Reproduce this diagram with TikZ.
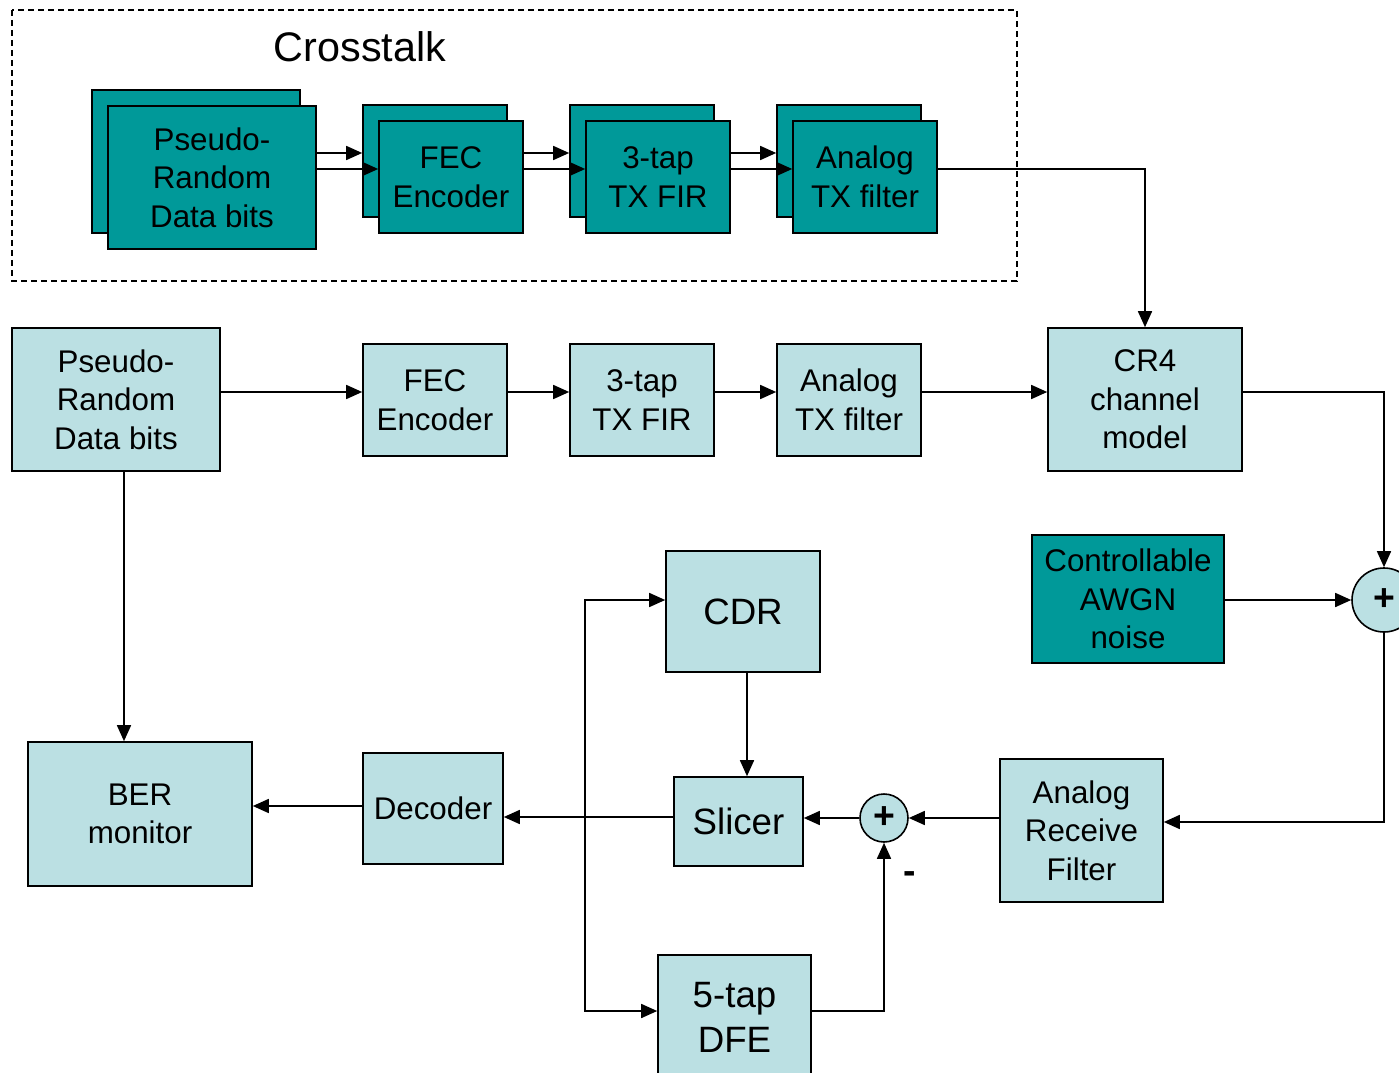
\documentclass[tikz,border=0pt]{standalone}
\usepackage{fontspec}
\setmainfont{Liberation Sans}
\usetikzlibrary{arrows.meta}
\definecolor{lteal}{HTML}{BBE0E3}
\definecolor{dteal}{HTML}{009999}
\begin{document}
\begin{tikzpicture}[x=0.75pt,y=-0.75pt,
  sz/.style 2 args={minimum width=#1*0.75pt, minimum height=#2*0.75pt},
  blk/.style={draw=black, line width=1.2pt, inner sep=0pt, align=center, font=\fontsize{23.5}{29}\selectfont},
  lb/.style={blk, fill=lteal},
  db/.style={blk, fill=dteal},
  big/.style={font=\fontsize{27.5}{34}\selectfont},
  sumc/.style={circle, draw=black, line width=1.2pt, fill=lteal, inner sep=0pt, font=\fontsize{28}{28}\selectfont\bfseries},
  arr/.style={line width=1.2pt, -{Triangle[length=12pt,width=10.5pt]}},
  ln/.style={line width=1.2pt}]
\useasboundingbox (0,0) rectangle (1399,1073);
% crosstalk frame
\draw[line width=1.2pt, dash pattern=on 4.5pt off 3pt] (12,10) rectangle (1017,281);
\node[font=\fontsize{31}{36}\selectfont] (xtitle) at (360,47) {Crosstalk};
% crosstalk back boxes
\node[db, sz={208}{143}] (xPRBSb) at (196,161.5) {};
\node[db, sz={144}{112}] (xFECb) at (435,161) {};
\node[db, sz={144}{112}] (xFIRb) at (642,161) {};
\node[db, sz={144}{112}] (xATXb) at (849,161) {};
% crosstalk front boxes
\node[db, sz={208}{143}] (xPRBS) at (212,177.5) {Pseudo-\\Random\\Data bits};
\node[db, sz={144}{112}] (xFEC) at (451,177) {FEC\\Encoder};
\node[db, sz={144}{112}] (xFIR) at (658,177) {3-tap\\TX FIR};
\node[db, sz={144}{112}] (xATX) at (865,177) {Analog\\TX filter};
% main row
\node[lb, sz={208}{143}] (PRBS) at (116,399.5) {Pseudo-\\Random\\Data bits};
\node[lb, sz={144}{112}] (FEC) at (435,400) {FEC\\Encoder};
\node[lb, sz={144}{112}] (FIR) at (642,400) {3-tap\\TX FIR};
\node[lb, sz={144}{112}] (ATX) at (849,400) {Analog\\TX filter};
\node[lb, sz={194}{143}] (CR4) at (1145,399.5) {CR4\\channel\\model};
\node[db, sz={192}{128}] (AWGN) at (1128,599) {Controllable\\AWGN\\noise};
\node[sumc, minimum size=64*0.75pt] (sum1) at (1384,600) {+};
\node[lb, sz={163}{143}] (ARF) at (1081.5,830.5) {Analog\\Receive\\Filter};
\node[sumc, minimum size=48*0.75pt] (sum2) at (884,818) {+};
\node[lb, big, sz={129}{89}] (Slicer) at (738.5,821.5) {Slicer};
\node[lb, big, sz={154}{121}] (CDR) at (743,611.5) {CDR};
\node[lb, sz={140}{111}] (Decoder) at (433,808.5) {Decoder};
\node[lb, sz={224}{144}] (BER) at (140,814) {BER\\monitor};
\node[lb, big, sz={153}{125}] (DFE) at (734.5,1017.5) {5-tap\\DFE};
\node[font=\fontsize{28}{30}\selectfont\bfseries] (minus) at (910,878) {-};
% helper coordinates
\coordinate (yA) at (0,153);
\coordinate (yB) at (0,169);
\coordinate (yC) at (0,392);
\coordinate (yD) at (0,822);
\coordinate (yE) at (0,806);
\coordinate (yH) at (0,600);
\coordinate (yI) at (0,1011);
\coordinate (xF) at (124,0);
\coordinate (xG) at (747,0);
\coordinate (fb) at (585,817);
% crosstalk connectors
\draw[arr] (xPRBS.east |- yA) -- (xFECb.west |- yA);
\draw[arr] (xPRBS.east |- yB) -- (xFEC.west |- yB);
\draw[arr] (xFEC.east |- yA) -- (xFIRb.west |- yA);
\draw[arr] (xFEC.east |- yB) -- (xFIR.west |- yB);
\draw[arr] (xFIR.east |- yA) -- (xATXb.west |- yA);
\draw[arr] (xFIR.east |- yB) -- (xATX.west |- yB);
\draw[arr] (xATX.east |- yB) -| (CR4.north);
% main connectors
\draw[arr] (PRBS.east |- yC) -- (FEC.west |- yC);
\draw[arr] (FEC.east |- yC) -- (FIR.west |- yC);
\draw[arr] (FIR.east |- yC) -- (ATX.west |- yC);
\draw[arr] (ATX.east |- yC) -- (CR4.west |- yC);
\draw[arr] (CR4.east |- yC) -| (sum1.north);
\draw[arr] (AWGN.east |- sum1) -- (sum1.west);
\draw[arr] (sum1.south) |- (ARF.east |- yD);
\draw[arr] (ARF.west |- sum2) -- (sum2.east);
\draw[arr] (sum2.west) -- (Slicer.east |- sum2);
\draw[arr] (Slicer.west |- fb) -- (Decoder.east |- fb);
\draw[arr] (Decoder.west |- yE) -- (BER.east |- yE);
\draw[arr] (PRBS.south -| xF) -- (BER.north -| xF);
\draw[arr] (CDR.south -| xG) -- (Slicer.north -| xG);
\draw[arr] (fb) |- (CDR.west |- yH);
\draw[arr] (fb) |- (DFE.west |- yI);
\draw[arr] (DFE.east |- yI) -| (sum2.south);
\end{tikzpicture}
\end{document}
